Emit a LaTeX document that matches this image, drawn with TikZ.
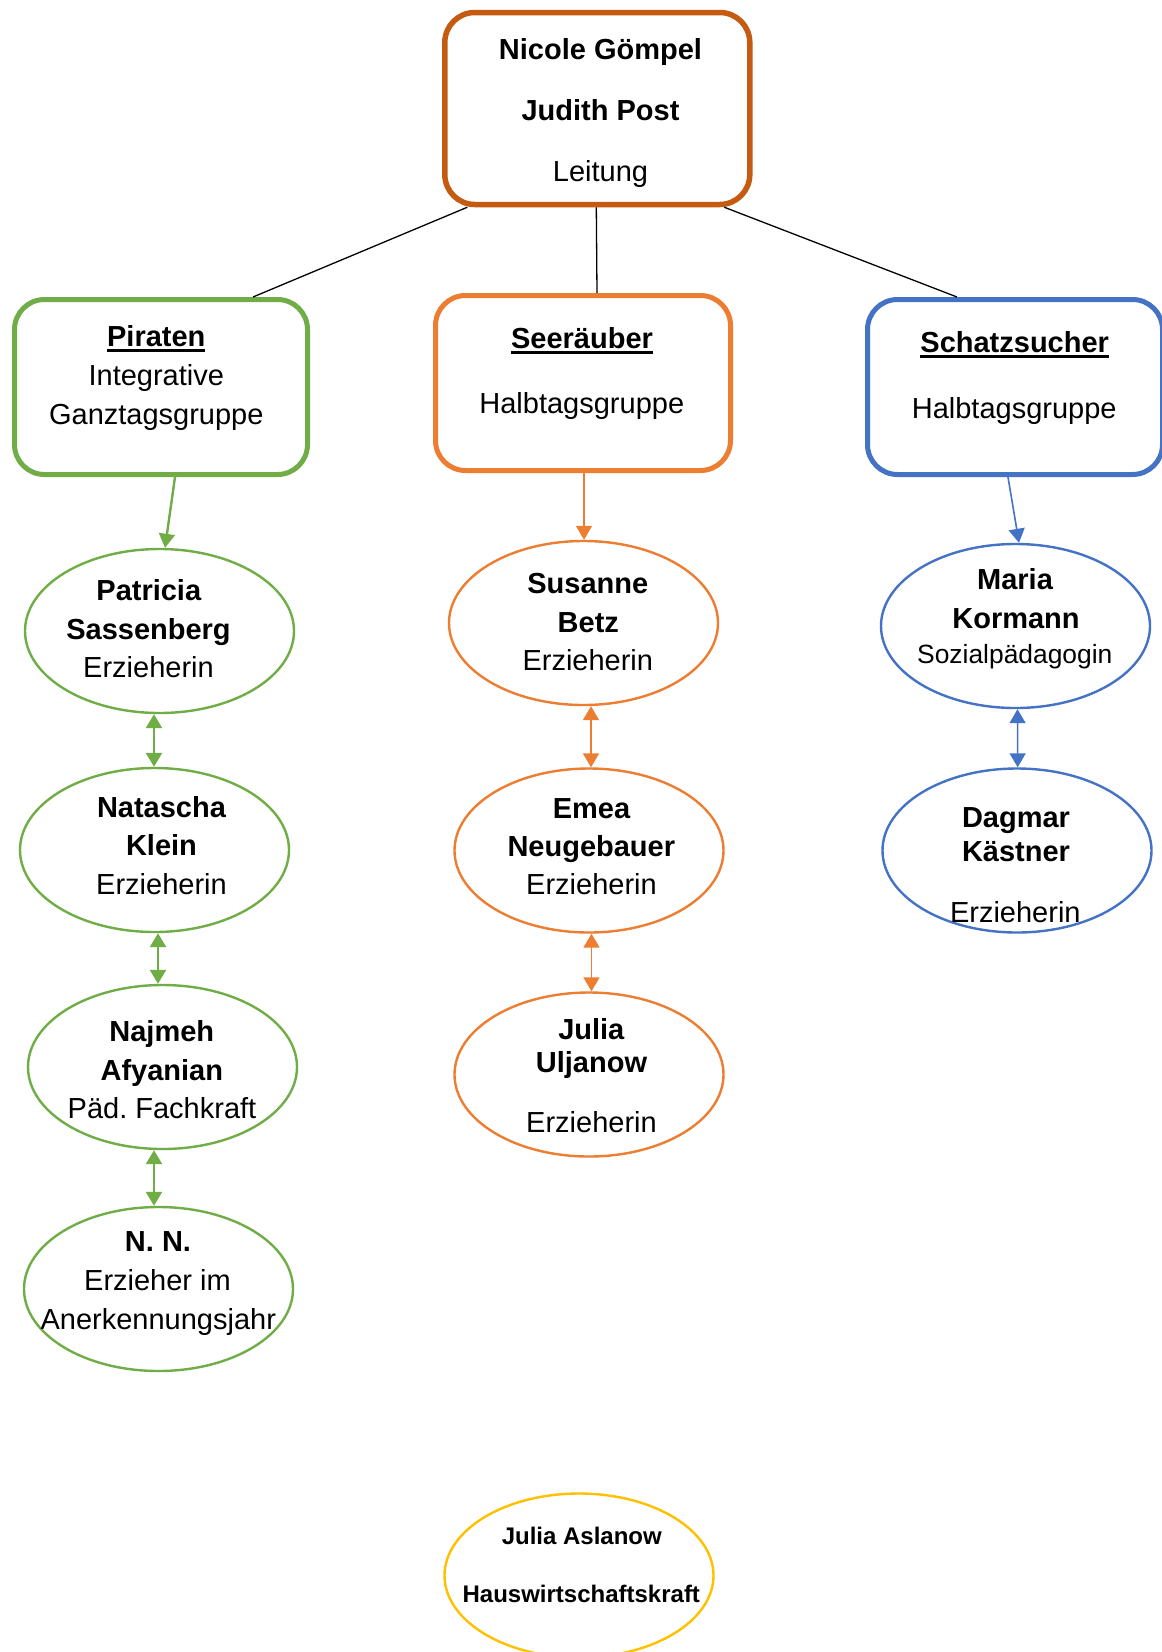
\documentclass[tikz,border=0pt]{standalone}
\usepackage{fontspec}
\setmainfont{Liberation Sans}
\usetikzlibrary{arrows.meta,shapes.geometric}
\definecolor{dorange}{HTML}{C55A11}
\definecolor{lorange}{HTML}{ED7D31}
\definecolor{mgreen}{HTML}{70AD47}
\definecolor{mblue}{HTML}{4472C4}
\definecolor{myellow}{HTML}{FFC000}
\frenchspacing
\newsavebox{\mysb}
\newcommand{\ulbox}[1]{\sbox{\mysb}{#1}\rlap{\rule[-5.5pt]{\wd\mysb}{3pt}}\usebox{\mysb}}
\tikzset{
  grpbox/.style={draw, rounded corners=30pt, line width=5pt, minimum width=293pt, minimum height=175pt, inner sep=0pt, fill=white},
  person/.style={draw, ellipse, line width=2.4pt, minimum width=269pt, minimum height=164pt, inner sep=0pt},
  txt/.style={anchor=base, inner sep=0pt, font=\fontsize{29pt}{35pt}\selectfont},
  txtb/.style={anchor=base, inner sep=0pt, font=\fontsize{29pt}{35pt}\selectfont\bfseries},
  tipone/.style={-{Triangle[width=16pt,length=14pt]}},
  tiptwo/.style={{Triangle[width=16pt,length=14pt]}-{Triangle[width=16pt,length=14pt]}},
  plainline/.style={draw=black, line width=1.3pt},
}
\begin{document}
\begin{tikzpicture}[x=1pt,y=-1pt]
\useasboundingbox (0,0) rectangle (1162,1652);
\fill[white] (0,0) rectangle (1162,1652);

% boxes
\node[grpbox, draw=dorange, line width=5.5pt, minimum width=305pt, minimum height=192pt] (top) at (597.3,108.5) {};
\node[grpbox, draw=mgreen] (pir) at (161,387) {};
\node[grpbox, draw=lorange, minimum width=295pt] (seer) at (583,383) {};
\node[grpbox, draw=mblue, minimum width=295pt] (schatz) at (1015,387) {};

% ellipses
\node[person, draw=mgreen] (pat) at (159.5,631) {};
\node[person, draw=mgreen] (nat) at (154.5,850) {};
\node[person, draw=mgreen] (naj) at (162.5,1067) {};
\node[person, draw=mgreen] (nn) at (158.5,1289) {};
\node[person, draw=lorange] (sus) at (583.5,623) {};
\node[person, draw=lorange] (emea) at (589,850.5) {};
\node[person, draw=lorange] (jul) at (589,1074.5) {};
\node[person, draw=mblue] (mar) at (1015.5,626) {};
\node[person, draw=mblue] (dag) at (1017,850.5) {};
\node[person, draw=myellow] (asl) at (579,1575.5) {};

% connectors from leitung
\draw[plainline] ([xshift=-130pt]top.south) -- ([xshift=92pt]pir.north);
\draw[plainline] ([xshift=-1pt]top.south) -- ([xshift=14pt]seer.north);
\draw[plainline] ([xshift=127pt]top.south) -- ([xshift=-58pt]schatz.north);

% green
\draw[mgreen, line width=2.4pt, tipone] ([xshift=14pt]pir.south) -- ([xshift=5.5pt]pat.north);
\draw[mgreen, line width=2.4pt, tiptwo] ([xshift=-5.5pt]pat.south) -- ([xshift=-0.5pt]nat.north);
\draw[mgreen, line width=2.4pt, tiptwo] ([xshift=3.5pt]nat.south) -- ([xshift=-4.5pt]naj.north);
\draw[mgreen, line width=2.4pt, tiptwo] ([xshift=-8.5pt]naj.south) -- ([xshift=-4.5pt]nn.north);
% orange
\draw[lorange, line width=1.6pt, tipone] ([xshift=1pt]seer.south) -- ([xshift=0.5pt]sus.north);
\draw[lorange, line width=1.6pt, tiptwo] ([xshift=7.5pt]sus.south) -- ([xshift=2pt]emea.north);
\draw[lorange, line width=1.6pt, tiptwo] ([xshift=2.5pt]emea.south) -- ([xshift=2.5pt]jul.north);
% blue
\draw[mblue, line width=1.6pt, tipone] ([xshift=-7pt]schatz.south) -- ([xshift=3.5pt]mar.north);
\draw[mblue, line width=1.6pt, tiptwo] ([xshift=2pt]mar.south) -- ([xshift=0.7pt]dag.north);

% texts: leitung
\node[txtb] (t1a) at (600.5,59) {Nicole Gömpel};
\node[txtb] (t1b) at (600.5,120) {Judith Post};
\node[txt]  (t1c) at (600.5,181) {Leitung};
% Piraten
\node[txtb] (t2a) at (156.3,346.5) {\ulbox{Piraten}};
\node[txt]  (t2b) at (156.3,385.5) {Integrative};
\node[txt]  (t2c) at (156.3,424.5) {Ganztagsgruppe};
% Seeräuber
\node[txtb] (t3a) at (582,348) {\ulbox{Seeräuber}};
\node[txt]  (t3b) at (581.8,413.5) {Halbtagsgruppe};
% Schatzsucher
\node[txtb] (t4a) at (1014.7,352.5) {\ulbox{Schatzsucher}};
\node[txt]  (t4b) at (1014.2,418.5) {Halbtagsgruppe};
% Patricia
\node[txtb] (t5a) at (148.8,600) {Patricia};
\node[txtb] (t5b) at (148.5,639) {Sassenberg};
\node[txt]  (t5c) at (148.5,677.5) {Erzieherin};
% Natascha
\node[txtb] (t6a) at (161.5,817.5) {Natascha};
\node[txtb] (t6b) at (161.5,855.5) {Klein};
\node[txt]  (t6c) at (161.5,894) {Erzieherin};
% Najmeh
\node[txtb] (t7a) at (161.8,1041.5) {Najmeh};
\node[txtb] (t7b) at (161.8,1080) {Afyanian};
\node[txt]  (t7c) at (162,1118.5) {Päd. Fachkraft};
% N. N.
\node[txtb] (t8a) at (158,1251.5) {N. N.};
\node[txt]  (t8b) at (157.5,1290.5) {Erzieher im};
\node[txt]  (t8c) at (158.3,1329) {Anerkennungsjahr};
% Susanne
\node[txtb] (t9a) at (587.8,593.3) {Susanne};
\node[txtb] (t9b) at (588.3,632.3) {Betz};
\node[txt]  (t9c) at (587.8,670.7) {Erzieherin};
% Emea
\node[txtb] (t10a) at (591.5,818) {Emea};
\node[txtb] (t10b) at (591.3,856) {Neugebauer};
\node[txt]  (t10c) at (591.5,894) {Erzieherin};
% Julia Uljanow
\node[txtb] (t11a) at (591.3,1039) {Julia};
\node[txtb] (t11b) at (591.5,1072) {Uljanow};
\node[txt]  (t11c) at (591.5,1132) {Erzieherin};
% Maria
\node[txtb] (t12a) at (1015,589) {Maria};
\node[txtb] (t12b) at (1016,628) {Kormann};
\node[txt, font=\fontsize{26.4pt}{32pt}\selectfont] (t12c) at (1014.8,663) {Sozialpädagogin};
% Dagmar
\node[txtb] (t13a) at (1016,827) {Dagmar};
\node[txtb] (t13b) at (1016,861) {Kästner};
\node[txt]  (t13c) at (1015.3,922) {Erzieherin};
% Julia Aslanow
\node[txtb, font=\fontsize{24pt}{29pt}\selectfont\bfseries] (t14a) at (581.8,1544) {Julia Aslanow};
\node[txtb, font=\fontsize{24pt}{29pt}\selectfont\bfseries] (t14b) at (581.3,1602.7) {Hauswirtschaftskraft};
\end{tikzpicture}
\end{document}
